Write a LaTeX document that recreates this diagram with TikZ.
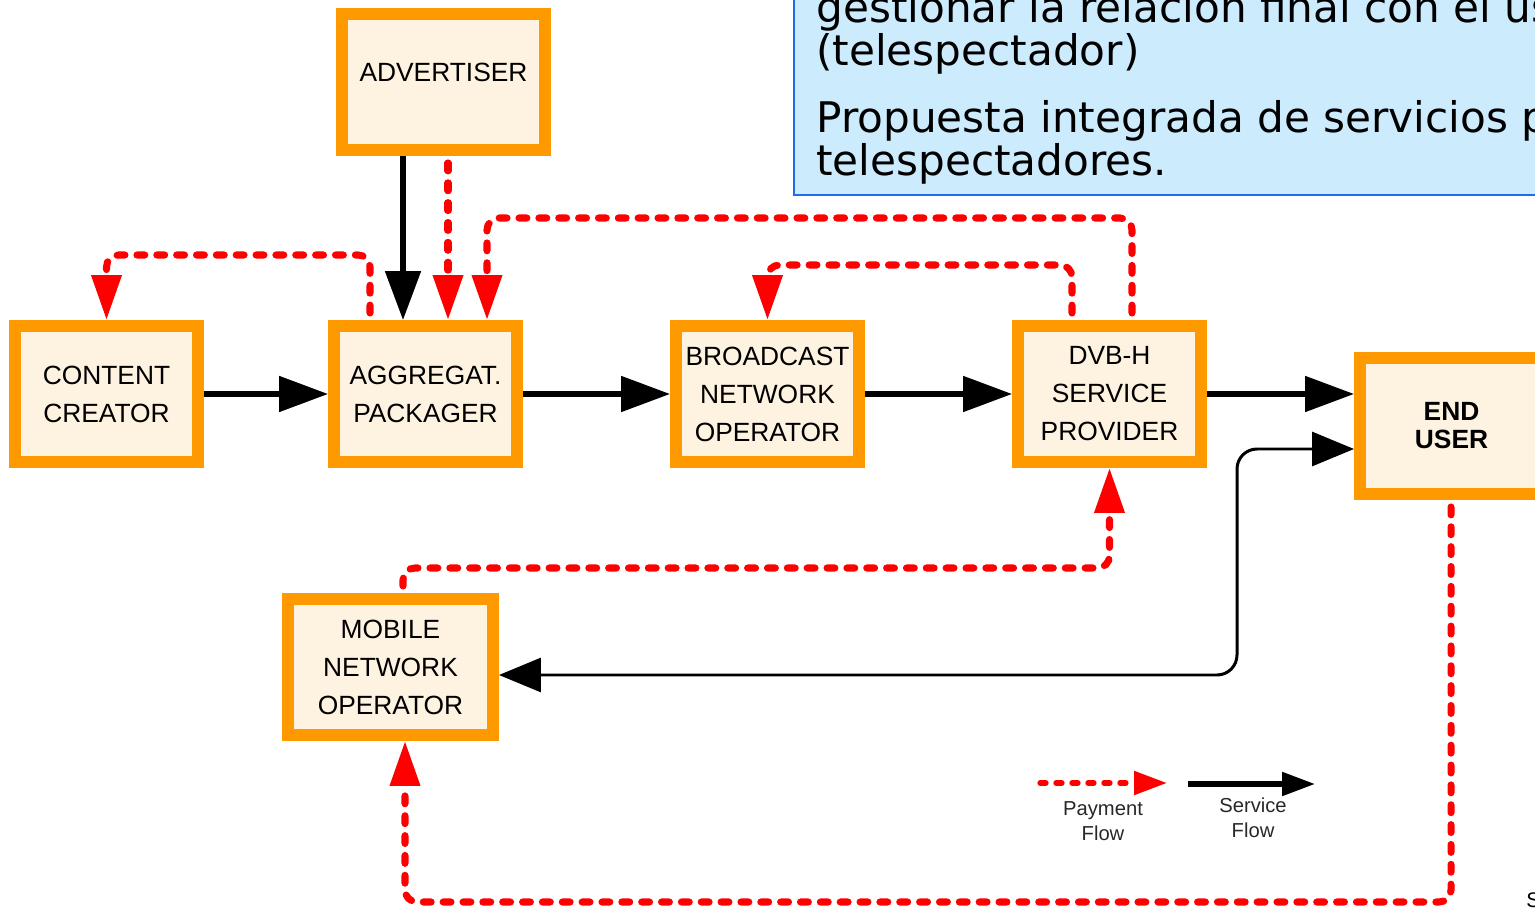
\documentclass[tikz,border=0pt]{standalone}
\usepackage{fontspec}
\setmainfont{Liberation Sans}
\newfontfamily\slidefont{DejaVu Sans}
\usetikzlibrary{arrows.meta,calc}
\definecolor{boxorange}{RGB}{255,153,0}
\definecolor{boxfill}{RGB}{254,242,225}
\definecolor{notefill}{RGB}{204,235,253}
\definecolor{noteblue}{RGB}{30,110,230}
\definecolor{legendgray}{RGB}{40,40,40}

\begin{document}
\begin{tikzpicture}[x=0.02cm, y=-0.02cm,
  actor/.style={draw=boxorange, fill=boxfill, line width=6.8pt, inner sep=0pt,
    minimum width=3.66cm, minimum height=2.72cm, align=center,
    font=\fontsize{15}{21.6}\selectfont},
  service/.style={-{Triangle[length=0.98cm,width=0.7cm]}, line width=2.9pt},
  feedback/.style={{Triangle[length=0.84cm,width=0.68cm]}-{Triangle[length=0.84cm,width=0.68cm]},
    line width=1.7pt, rounded corners=0.4cm},
  payment/.style={-{Triangle[length=0.9cm,width=0.58cm]}, red, line width=4pt,
    line cap=round, dash pattern=on 4.5pt off 6.8pt, rounded corners=0.24cm,
    shorten <=0.14cm},
  legend/.style={font=\fontsize{11.5}{14.2}\selectfont, text=legendgray, align=center}]
\useasboundingbox (0,0) rectangle (1535,908);

% slide text box (cut by the page)
\draw[draw=noteblue, fill=notefill, line width=1.2pt] (794,-20) rectangle (1600,195);
\node[anchor=base west, align=left, inner sep=0pt,
  font=\slidefont\fontsize{24}{24.5}\selectfont] (note) at (816,176)
  {gestionar la relación final con el usuario\\(telespectador)\\[13.7pt]
   Propuesta integrada de servicios para los\\telespectadores.};

% actors
\node[actor, minimum width=4.06cm, text depth=0.4cm] (adv) at (443.5,82) {ADVERTISER};
\node[actor] (cc) at (106.5,394) {CONTENT\\CREATOR};
\node[actor] (agg) at (425.5,394) {AGGREGAT.\\PACKAGER};
\node[actor] (bno) at (767.5,394) {BROADCAST\\NETWORK\\OPERATOR};
\node[actor] (dvb) at (1109.5,394) {DVB-H\\SERVICE\\PROVIDER};
\node[actor, font=\bfseries\fontsize{15}{16}\selectfont] (eu) at (1451.5,426) {END\\USER};
\node[actor, minimum width=4.1cm] (mno) at (390.5,667) {MOBILE\\NETWORK\\OPERATOR};

% service flow
\draw[service] (cc.east) -- (agg.west);
\draw[service] (agg.east) -- (bno.west);
\draw[service] (bno.east) -- (dvb.west);
\draw[service] (dvb.east) -- (dvb.east -| eu.west);
\draw[service] (403,0 |- adv.south) -- (403,0 |- agg.north);
\draw[feedback] (0,449 -| eu.west) -- (1237,449) -- (1237,675) -- (0,675 -| mno.east);

% payment flow
\draw[payment] (370,0 |- agg.north) -- (370,255) -- (106.5,255) -- (cc.north);
\draw[payment] (448,0 |- adv.south) -- (448,0 |- agg.north);
\draw[payment] (1132,0 |- dvb.north) -- (1132,218) -- (487,218) -- (487,0 |- agg.north);
\draw[payment] (1072,0 |- dvb.north) -- (1072,265) -- (767.5,265) -- (bno.north);
\draw[payment] (403,0 |- mno.north) -- (403,568) -- (1109.5,568) -- (dvb.south);
\draw[payment] (1451,0 |- eu.south) -- (1451,902) -- (405,902) -- (405,0 |- mno.south);

% legend
\coordinate (pay0) at (1040,783);
\coordinate (pay1) at (1167,783);
\coordinate (srv0) at (1188,784);
\coordinate (srv1) at (1315,784);
\draw[payment, line width=3pt, dash pattern=on 3.4pt off 5.7pt, shorten <=0pt,
  -{Triangle[length=0.66cm,width=0.46cm]}] (pay0) -- (pay1);
\draw[line width=3pt, -{Triangle[length=0.66cm,width=0.46cm]}] (srv0) -- (srv1);
\node[legend] (paytext) at (1103,821) {Payment\\Flow};
\node[legend] (srvtext) at (1253,818) {Service\\Flow};

\node[anchor=west, inner sep=0pt, font=\large] (pagemark) at (1526,900) {S};
\end{tikzpicture}
\end{document}
